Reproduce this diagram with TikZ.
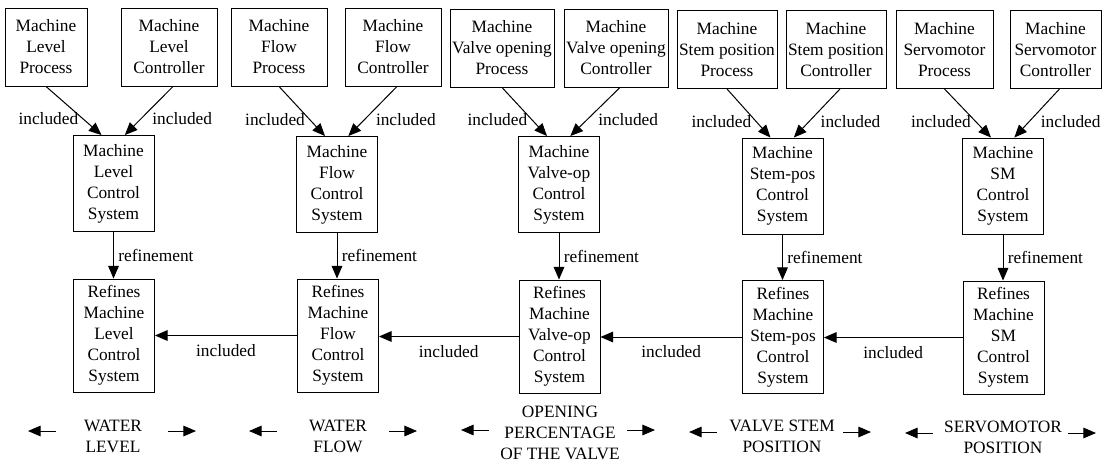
\documentclass[tikz,border=0pt]{standalone}
\usepackage{fontspec}
\setmainfont{Liberation Serif}
\usetikzlibrary{arrows.meta,calc}

\begin{document}
\begin{tikzpicture}[x=0.75pt, y=-0.75pt, >={Triangle[length=9.5pt,width=8pt]},
		font=\fontsize{13}{15.75}\selectfont,
		box/.style={draw, line width=0.7pt, align=center, inner sep=0pt},
		tbox/.style={box, minimum width=#1, minimum height=58.5pt},
		mbox/.style={box, minimum width=60.75pt, minimum height=72pt},
		rbox/.style={box, minimum width=60.75pt, minimum height=84.75pt},
		link/.style={->, line width=0.75pt}]
	\useasboundingbox (0,0) rectangle (1108,465);
	% processes and controllers
	\node[tbox=61.5pt] (p1) at (46,47) {Machine\\Level\\Process};
	\node[tbox=72pt] (c1) at (169,47) {Machine\\Level\\Controller};
	\node[tbox=72pt] (p2) at (279,47) {Machine\\Flow\\Process};
	\node[tbox=72pt] (c2) at (393,47) {Machine\\Flow\\Controller};
	\node[tbox=78pt] (p3) at (502,48) {Machine\\Valve opening\\Process};
	\node[tbox=78pt] (c3) at (616,48) {Machine\\Valve opening\\Controller};
	\node[tbox=75pt] (p4) at (727,49.5) {Machine\\Stem position\\Process};
	\node[tbox=75pt] (c4) at (836,49.5) {Machine\\Stem position\\Controller};
	\node[tbox=72.75pt] (p5) at (944.5,49.5) {Machine\\Servomotor\\Process};
	\node[tbox=68.25pt] (c5) at (1055.5,49.5) {Machine\\Servomotor\\Controller};
	% control systems
	\node[mbox] (m1) at (113.5,183.5) {Machine\\Level\\Control\\System};
	\node[mbox] (m2) at (337,184.5) {Machine\\Flow\\Control\\System};
	\node[mbox] (m3) at (559,184.5) {Machine\\Valve-op\\Control\\System};
	\node[mbox] (m4) at (782.5,186) {Machine\\Stem-pos\\Control\\System};
	\node[mbox] (m5) at (1003,186) {Machine\\SM\\Control\\System};
	% refined systems
	\node[rbox] (r1) at (114,335.5) {Refines\\Machine\\Level\\Control\\System};
	\node[rbox] (r2) at (338,335.5) {Refines\\Machine\\Flow\\Control\\System};
	\node[rbox] (r3) at (559.5,336.5) {Refines\\Machine\\Valve-op\\Control\\System};
	\node[rbox] (r4) at (783,337) {Refines\\Machine\\Stem-pos\\Control\\System};
	\node[rbox] (r5) at (1003.5,337.5) {Refines\\Machine\\SM\\Control\\System};
	\foreach \i in {1,...,5} {
		\draw[link] (p\i.south) -- ([xshift=-9pt]m\i.north) node[pos=0.67, left] {included};
		\draw[link] ([xshift=3pt]c\i.south) -- ([xshift=8.5pt]m\i.north) node[pos=0.67, right, xshift=5pt] {included};
		\draw[link] (m\i.south) -- (m\i.south |- r\i.north) node[midway, right] {refinement};
	}
	\foreach \i/\j in {2/1,3/2,4/3,5/4}
		\draw[link] (r\i.west) -- (r\i.west -| r\j.east) node[midway, below=3pt] {included};
	% legend
	\node[align=center] (lg1) at (113,436) {WATER\\LEVEL};
	\node[align=center] (lg2) at (338,436) {WATER\\FLOW};
	\node[align=center] (lg3) at (560,433) {OPENING\\PERCENTAGE\\OF THE VALVE};
	\node[align=center] (lg4) at (782,436) {VALVE STEM\\POSITION};
	\node[align=center] (lg5) at (1003,437) {SERVOMOTOR\\POSITION};
	\foreach \n/\a/\b/\dy in {lg1/57/55/-5, lg2/61/51/-5, lg3/71/67/-3, lg4/65/61/-4, lg5/70/65/-4} {
		\draw[link] ($(\n)+(-\a,\dy)$) -- ++(-28,0);
		\draw[link] ($(\n)+(\b,\dy)$) -- ++(28,0);
	}
\end{tikzpicture}
\end{document}
